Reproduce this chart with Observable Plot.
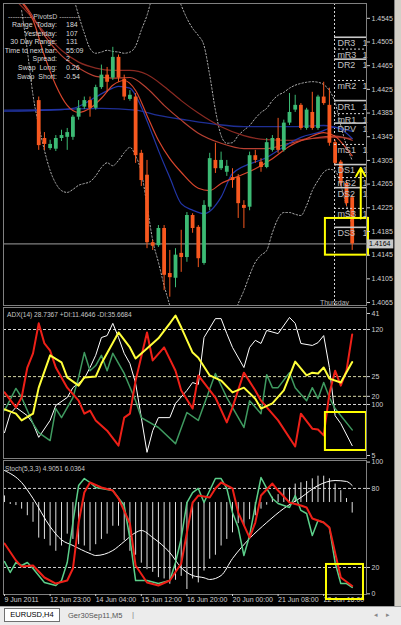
<!DOCTYPE html>
<html><head><meta charset="utf-8">
<script src="https://cdn.jsdelivr.net/npm/d3@7"></script>
<script src="https://cdn.jsdelivr.net/npm/@observablehq/plot@0.6"></script>
<style>
html,body{margin:0;padding:0;background:#000;}
#wrap{position:relative;width:401px;height:625px;overflow:hidden;background:#000;font-family:"Liberation Sans",Arial,sans-serif;}
.t{position:absolute;white-space:pre;line-height:1;font-size:7px;}
</style></head><body>
<div id="wrap"></div>
<script>
// ---------------- DATA ----------------
// Candles (bar index, price)
const candleBar = [6,7,8,9,10,11,12,13,14,15,16,17,18,19,20,21,22,23,24,25,26,27,28,29,30,31,32,33,34,35,36,37,38,39,40,41,42,43,44,45,46,47,48,49,50,51,52,53,54,55,56,57,58,59,60,61];
const candleOpen = [1.4406,1.4342,1.4325,1.4324,1.4342,1.4344,1.4344,1.4378,1.4395,1.4406,1.4393,1.4428,1.4449,1.4444,1.4479,1.4442,1.4408,1.4412,1.4317,1.4280,1.4166,1.4161,1.4190,1.4114,1.4106,1.4148,1.4141,1.4212,1.4192,1.4131,1.4226,1.4305,1.4291,1.4285,1.4276,1.4276,1.4229,1.4226,1.4313,1.4302,1.4293,1.4322,1.4342,1.4322,1.4368,1.4390,1.4398,1.4359,1.4386,1.4359,1.4412,1.4398,1.4335,1.4302,1.4266,1.4242];
const candleHigh = [1.4412,1.4352,1.4339,1.4347,1.4356,1.4359,1.4381,1.4406,1.4412,1.4412,1.4432,1.4466,1.4462,1.4496,1.4483,1.4449,1.4423,1.4418,1.4322,1.4305,1.4170,1.4195,1.4195,1.4153,1.4156,1.4187,1.4217,1.4215,1.4195,1.4237,1.4317,1.4334,1.4319,1.4305,1.4291,1.4281,1.4237,1.4319,1.4322,1.4308,1.4342,1.4347,1.4376,1.4373,1.4418,1.4415,1.4401,1.4393,1.4420,1.4415,1.4437,1.4427,1.4339,1.4305,1.4271,1.4246];
const candleLow = [1.4322,1.4322,1.4322,1.4320,1.4337,1.4322,1.4339,1.4373,1.4391,1.4378,1.4390,1.4425,1.4420,1.4440,1.4437,1.4406,1.4405,1.4300,1.4261,1.4156,1.4153,1.4158,1.4085,1.4074,1.4090,1.4116,1.4133,1.4182,1.4124,1.4128,1.4220,1.4283,1.4288,1.4278,1.4258,1.4207,1.4190,1.4220,1.4300,1.4285,1.4291,1.4319,1.4317,1.4319,1.4364,1.4386,1.4356,1.4356,1.4356,1.4356,1.4398,1.4329,1.4295,1.4261,1.4227,1.4153];
const candleClose = [1.4330,1.4332,1.4332,1.4342,1.4347,1.4352,1.4378,1.4393,1.4406,1.4393,1.4428,1.4449,1.4437,1.4479,1.4444,1.4412,1.4415,1.4313,1.4271,1.4166,1.4160,1.4190,1.4111,1.4107,1.4145,1.4141,1.4212,1.4190,1.4139,1.4229,1.4308,1.4291,1.4305,1.4295,1.4271,1.4232,1.4224,1.4313,1.4305,1.4293,1.4335,1.4342,1.4322,1.4368,1.4386,1.4398,1.4359,1.4390,1.4359,1.4412,1.4401,1.4334,1.4300,1.4266,1.4232,1.4164];

// Moving averages
const blueSlowBar = [0,10,17,23,27,32,37,42,50,56,58,61];
const blueSlowVal = [1.4390,1.4391,1.4393,1.4390,1.4381,1.4373,1.4366,1.4362,1.4362,1.4364,1.4361,1.4354];
const blueFastBar = [0,8,12,14,16,19,20,22,24,26,27,29,31,33,35,38,40,46,52,55,58,60,61];
const blueFastVal = [1.4388,1.4390,1.4393,1.4401,1.4412,1.4427,1.4430,1.4427,1.4395,1.4347,1.4322,1.4276,1.4232,1.4221,1.4215,1.4243,1.4283,1.4310,1.4344,1.4352,1.4361,1.4351,1.4342];
const redFastBar = [3,5,7,9,11,13,15,17,19,21,23,25,27,29,31,34,36,38,41,44,47,50,53,56,58,60,61];
const redFastVal = [1.4572,1.4542,1.4482,1.4432,1.4398,1.4386,1.4393,1.4410,1.4432,1.4440,1.4423,1.4381,1.4339,1.4308,1.4285,1.4258,1.4254,1.4266,1.4278,1.4291,1.4308,1.4329,1.4342,1.4352,1.4346,1.4325,1.4313];
const redMidBar = [2,4,7,10,13,16,19,22,25,28,31,34,38,42,46,50,54,58,61];
const redMidVal = [1.4584,1.4562,1.4516,1.4482,1.4461,1.4447,1.4444,1.4445,1.4427,1.4398,1.4373,1.4351,1.4334,1.4325,1.4325,1.4334,1.4342,1.4346,1.4339];
const brownBar = [2,4,7,10,13,16,19,22,25,28,31,34,38,42,46,50,54,58,61];
const brownVal = [1.4575,1.4555,1.4521,1.4491,1.4471,1.4461,1.4457,1.4457,1.4450,1.4430,1.4406,1.4385,1.4362,1.4347,1.4340,1.4339,1.4342,1.4344,1.4342];

// Bollinger bands
const bbUpperBar = [11,12,13,14,15,16,17,18,19,20,21,22,23,24,25,26,27,29,30,31,32,33,34,35,36,37,38,39,40,41,42,43,44,45,46,47,48,49,50,51,52,53,54,55,56,57,58,59,60,61];
const bbUpperVal = [1.4618,1.4584,1.4550,1.4520,1.4494,1.4486,1.4488,1.4491,1.4489,1.4488,1.4486,1.4488,1.4498,1.4525,1.4550,1.4584,1.4609,1.4618,1.4592,1.4567,1.4545,1.4528,1.4516,1.4499,1.4449,1.4390,1.4347,1.4334,1.4335,1.4347,1.4356,1.4364,1.4376,1.4386,1.4393,1.4406,1.4415,1.4420,1.4427,1.4432,1.4435,1.4437,1.4438,1.4437,1.4433,1.4423,1.4403,1.4364,1.4330,1.4305];
const bbLowerBar = [3,4,5,6,7,8,9,10,11,12,13,14,15,16,17,18,19,20,21,22,23,24,25,26,27,28,29,30,35,40,41,42,43,44,45,46,47,48,49,50,51,52,53,54,55,56,57,58,59,60,61];
const bbLowerVal = [1.4558,1.4491,1.4415,1.4364,1.4322,1.4288,1.4266,1.4254,1.4251,1.4256,1.4263,1.4266,1.4269,1.4279,1.4293,1.4301,1.4296,1.4305,1.4318,1.4327,1.4313,1.4285,1.4229,1.4170,1.4133,1.4094,1.4060,1.4026,1.4018,1.4035,1.4063,1.4085,1.4111,1.4133,1.4145,1.4153,1.4183,1.4207,1.4217,1.4217,1.4214,1.4212,1.4229,1.4254,1.4271,1.4285,1.4290,1.4288,1.4263,1.4229,1.4196];

// Daily pivots
const pivotNames = ["DR3","mR3","DR2","mR2","DR1","mR1","DPV","mS1","DS1","mS2","DS2","mS3","DS3"];
const pivotValues = [1.4513,1.4493,1.4476,1.4440,1.4406,1.4384,1.4368,1.4332,1.4298,1.4276,1.4259,1.4224,1.4192];
const pivotPriceStub = "1";   // visible start of the (cut-off) pivot price text
const daySeparatorBar = 57.9;
const dayName = "Thursday";

const priceTicks = [1.4545,1.4505,1.4465,1.4425,1.4385,1.4345,1.4305,1.4265,1.4225,1.4185,1.4145,1.4105,1.4065];
const lastPrice = 1.4164;

// ADX panel
const adxRedBar = [0,2,3,4,5,6,7,8,9,11,13,14,15,16,18,20,21,22,23,25,26,28,30,31,33,34,37,39,40,42,44,45,48,51,52,54,55,56,57,58,59,60,61];
const adxRedVal = [21.0,17.2,19.7,27.3,30.9,38.5,33.4,31.6,27.3,22.2,18.9,15.6,16.4,13.9,11.3,7.5,14.6,15.6,24.0,36.2,29.1,32.4,26.5,21.5,16.9,25.3,19.7,13.4,17.2,26.0,21.5,18.9,13.9,7.3,15.6,11.8,11.6,10.1,20.7,26.5,22.7,26.5,35.7];
const adxGreenBar = [0,2,3,4,5,6,8,9,10,12,13,14,15,16,17,18,19,21,23,24,27,30,32,34,37,39,42,43,45,46,47,48,50,51,53,54,55,56,57,58,61];
const adxGreenVal = [16.4,22.0,19.7,16.4,13.1,10.8,8.8,16.9,14.6,19.7,24.8,31.1,26.5,27.8,30.4,26.5,30.9,25.8,18.9,14.6,12.1,8.0,15.9,13.9,25.8,19.7,12.1,18.9,15.6,25.5,22.2,22.2,26.0,22.2,18.9,22.2,19.4,23.5,19.7,16.9,11.5];
const adxYellowBar = [0,2,3,5,6,8,10,11,13,14,16,17,20,22,23,25,27,29,30,31,33,34,36,38,40,42,44,45,47,49,51,53,54,55,56,57,59,61];
const adxYellowVal = [16.7,15.6,13.9,15.6,22.2,30.4,28.6,24.8,22.7,24.8,25.0,28.3,36.2,32.4,29.6,32.1,34.7,38.5,40.5,37.5,31.1,29.8,25.3,24.0,21.0,22.2,19.4,16.9,18.2,21.5,28.8,25.3,26.0,25.8,27.3,24.5,23.5,28.7];
const adxWhiteBar = [0,1,2,4,5,6,8,9,11,12,14,15,16,17,18,19,20,21,22,23,24,25,26,27,29,30,32,33,34,35,37,38,39,40,42,43,44,45,46,48,50,51,52,54,55,56,57,58,59,61];
const adxWhiteVal = [10.8,15.6,17.2,15.1,13.1,9.6,13.9,17.7,19.7,22.2,24.5,27.3,30.4,34.9,35.4,38.5,34.9,30.9,28.3,23.3,14.6,5.8,11.3,14.6,14.6,18.2,21.5,23.5,23.0,34.9,39.7,39.7,35.9,32.4,27.3,32.4,34.2,33.4,36.7,35.9,40.0,38.5,33.4,32.9,33.6,35.4,27.3,15.1,13.1,7.5];
const adxTickValues = [41, 36.94, 25, 20, 17.93, 5];
const adxTickLabels = ["41", "120", "25", "20", "100", "5"];
const adxWhiteLevels = [36.94, 17.93];
const adxYellowLevels = [25, 20];
const adxTitle = "ADX(14) 28.7367 +DI:11.4646 -DI:35.6684";

// Stochastic panel
const stochMainBar = [0,1,2,3,4,5,7,9,10,11,12,13,14,15,16,18,19,21,22,23,24,25,27,29,30,31,32,33,34,35,37,38,39,40,41,42,43,44,45,46,47,48,50,51,52,53,54,55,56,57,58,59,60,61];
const stochMainVal = [24.5,16.2,23.8,21.5,23.8,19.2,8.6,6.3,10.1,23.8,54.1,82.2,87.5,84.5,80.7,79.2,78.4,67.0,42.0,10.1,10.1,10.1,7.8,10.1,23.8,42.0,69.3,76.9,80.0,69.3,87.5,87.5,80.0,61.7,50.3,29.1,44.3,67.0,88.3,80.0,72.4,68.6,65.5,74.6,63.3,61.0,44.3,55.7,54.1,50.3,23.8,7.8,7.8,4.9];
const stochSigBar = [0,2,3,5,7,9,11,12,13,14,15,17,19,20,22,23,25,27,29,31,32,33,34,36,37,38,40,41,43,44,45,47,48,50,52,53,54,56,57,58,59,61];
const stochSigVal = [38.2,25.3,20.7,21.5,12.4,7.8,10.1,19.2,54.1,76.9,84.5,80.7,78.4,72.4,53.4,21.5,8.6,6.3,10.1,23.0,46.5,69.3,74.6,73.1,80.0,84.5,80.0,61.7,42.7,54.1,74.6,83.7,78.4,69.3,67.0,65.5,57.2,54.1,50.3,31.3,12.4,6.0];
const stochSmoothBar = [0,3,5,8,10,12,15,16,19,21,23,24,26,29,31,33,35,36,38,40,43,46,49,52,55,58,60,61];
const stochSmoothVal = [93.6,84.5,72.4,51,41,36.7,30.6,29.1,32.9,39.7,46.5,48.1,42.7,31.3,19.9,13.9,12.2,10.9,13.9,26.8,42.0,54.1,64.8,73.1,82.2,86.0,85.3,82.2];
const histBaseline = 69.3;
const histVal = [5,-1.5,-2.3,-5,-10,-15,-27,-28,-33,-37,-33,-24,-28,-32,-33,-37,-32,-28,-24,-18,-18,-29,-37,-40,-46,-51,-53,-57,-58,-62,-59,-56,-66,-58,-61,-52,-43,-40,-33,-28,-23,-16,-18,-13,-10,-5,-2,4,6,10,11,14,15,16,18,20,20,18,14,9,3,-8];
const stochTicks = [100, 80, 20, 0];
const stochLevels = [80, 20];
const stochTitle = "Stoch(5,3,3) 4.9051 6.0364";

const dateTickBars = [0,8,16,24,32,40,48,56];
const dateTickLabels = ["9 Jun 2011","12 Jun 23:00","14 Jun 04:00","15 Jun 12:00","16 Jun 20:00","20 Jun 00:00","21 Jun 08:00","22 Jun 16:00"];

// Annotations drawn on the screenshot (bar index / value units)
const mainBox = {x1: 56.3, x2: 63.86, y1: 1.4145, y2: 1.4207};
const mainArrow = {x1: 62.5, y1: 1.4207, x2: 62.5, y2: 1.4292};
const adxBox = {x1: 56.3, x2: 63.5, y1: 6.27, y2: 15.9};
const stochBox = {x1: 56.49, x2: 62.98, y1: -4.3, y2: 22.3};

// Info panel text
const infoTitle = "---------- PivotsD ---------";
const infoLabels = ["Range  Today:","Yesterday:","30 Day Range:","Time to next bar:","Spread:","Swap  Long:","Swap  Short:"];
const infoValues = ["184","107","131","55:09","2","0.26","-0.54"];

const tabs = ["EURUSD,H4","Ger30Sep11,M5"];

// ---------------- BUILD ----------------
const pairs = (bars, vals) => bars.map((b, i) => ({bar: b, v: vals[i]}));
const W = 396;
const XD = [-0.18, 63.51];
const FONT = '"Liberation Sans", Arial, sans-serif';
const baseStyle = {background: "#000", color: "#d0d0d0", fontSize: "7px", fontFamily: FONT};
const BULL = "#3cba74", BEAR = "#f7581f";

const candles = candleBar.map((b, i) => ({bar: b, o: candleOpen[i], h: candleHigh[i], l: candleLow[i], c: candleClose[i]}));
const pivots = pivotNames.map((n, i) => ({name: n, v: pivotValues[i], solid: n[0] === "D"}));

const mainPlot = Plot.plot({
  width: W, height: 306,
  marginLeft: 3, marginRight: 30, marginTop: 3, marginBottom: 1,
  x: {domain: XD, axis: null},
  y: {domain: [1.4060, 1.4570]},
  style: baseStyle,
  marks: [
    Plot.ruleY([lastPrice], {stroke: "#a0a0a0", strokeWidth: 1}),
    Plot.ruleX([daySeparatorBar], {stroke: "#d8d8d8", strokeDasharray: "2,2"}),
    Plot.line(pairs(bbUpperBar, bbUpperVal), {x: "bar", y: "v", stroke: "#b0b0b0", strokeDasharray: "1.5,2", strokeWidth: 1, curve: "monotone-x", clip: true}),
    Plot.line(pairs(bbLowerBar, bbLowerVal), {x: "bar", y: "v", stroke: "#b0b0b0", strokeDasharray: "1.5,2", strokeWidth: 1, curve: "monotone-x", clip: true}),
    Plot.line(pairs(blueSlowBar, blueSlowVal), {x: "bar", y: "v", stroke: "#1f2f95", strokeWidth: 1.3, curve: "monotone-x", clip: true}),
    Plot.line(pairs(brownBar, brownVal), {x: "bar", y: "v", stroke: "#8a2a22", strokeWidth: 1.2, curve: "monotone-x", clip: true}),
    Plot.line(pairs(redMidBar, redMidVal), {x: "bar", y: "v", stroke: "#b84032", strokeWidth: 1.2, curve: "monotone-x", clip: true}),
    Plot.line(pairs(blueFastBar, blueFastVal), {x: "bar", y: "v", stroke: "#2236a8", strokeWidth: 1.2, curve: "monotone-x", clip: true}),
    Plot.line(pairs(redFastBar, redFastVal), {x: "bar", y: "v", stroke: "#d8452c", strokeWidth: 1.2, curve: "monotone-x", clip: true}),
    Plot.ruleX(candles, {x: "bar", y1: "l", y2: "h", stroke: d => d.c >= d.o ? BULL : BEAR, strokeWidth: 1, clip: true}),
    Plot.ruleX(candles, {x: "bar", y1: "o", y2: "c", stroke: d => d.c >= d.o ? BULL : BEAR, strokeWidth: 3.8, clip: true}),
    Plot.ruleY(pivots.filter(d => d.solid), {y: "v", x1: daySeparatorBar, x2: XD[1], stroke: "#c8c8c8", strokeWidth: 1.6}),
    Plot.ruleY(pivots.filter(d => !d.solid), {y: "v", x1: daySeparatorBar, x2: XD[1], stroke: "#d8d8d8", strokeWidth: 1, strokeDasharray: "2,2"}),
    Plot.text(pivots, {x: 58.4, y: "v", text: "name", textAnchor: "start", dy: 6, fill: "#c0c0c0", fontSize: 9}),
    Plot.text(pivots, {x: 62.8, y: "v", text: () => pivotPriceStub, textAnchor: "start", dy: 6, fill: "#c0c0c0", fontSize: 9}),
    Plot.text([dayName], {x: daySeparatorBar, y: 1.40615, text: d => d, lineAnchor: "bottom", fill: "#b8b8b8", fontSize: 7}),
    Plot.rect([mainBox], {x1: "x1", x2: "x2", y1: "y1", y2: "y2", stroke: "#ffff00", strokeWidth: 2, fill: "none"}),
    Plot.arrow([mainArrow], {x1: "x1", y1: "y1", x2: "x2", y2: "y2", stroke: "#ffff00", strokeWidth: 2, headLength: 7}),
    Plot.frame({stroke: "#808080"}),
    Plot.axisY(priceTicks, {anchor: "right", tickSize: 3, tickPadding: 2, tickFormat: d => d.toFixed(4), fontSize: 7}),
    Plot.ruleY([lastPrice], {x1: 63.7, x2: 68.3, stroke: "#c8c8c8", strokeWidth: 9}),
    Plot.text([lastPrice], {x: 63.95, y: d => d, text: d => d.toFixed(4), textAnchor: "start", fill: "#000", fontSize: 7})
  ]
});

const adxPlot = Plot.plot({
  width: W, height: 153,
  marginLeft: 3, marginRight: 30, marginTop: 1, marginBottom: 1,
  x: {domain: XD, axis: null},
  y: {domain: [4.24, 42.52]},
  style: baseStyle,
  marks: [
    Plot.ruleY(adxWhiteLevels, {stroke: "#d8d8d8", strokeDasharray: "3,2"}),
    Plot.ruleY(adxYellowLevels, {stroke: "#d8d8a8", strokeDasharray: "3,2"}),
    Plot.line(pairs(adxWhiteBar, adxWhiteVal), {x: "bar", y: "v", stroke: "#ffffff", strokeWidth: 1, clip: true}),
    Plot.line(pairs(adxGreenBar, adxGreenVal), {x: "bar", y: "v", stroke: "#3f9a60", strokeWidth: 1.5, clip: true}),
    Plot.line(pairs(adxRedBar, adxRedVal), {x: "bar", y: "v", stroke: "#ee2018", strokeWidth: 2, clip: true}),
    Plot.line(pairs(adxYellowBar, adxYellowVal), {x: "bar", y: "v", stroke: "#ffff3a", strokeWidth: 2, clip: true}),
    Plot.rect([adxBox], {x1: "x1", x2: "x2", y1: "y1", y2: "y2", stroke: "#ffff00", strokeWidth: 2, fill: "none"}),
    Plot.frame({stroke: "#808080"}),
    Plot.axisY(adxTickValues, {anchor: "right", tickSize: 3, tickPadding: 2, tickFormat: d => adxTickLabels[adxTickValues.indexOf(d)], fontSize: 7})
  ]
});

const stochPlot = Plot.plot({
  width: W, height: 147,
  marginLeft: 3, marginRight: 30, marginTop: 1, marginBottom: 12,
  x: {domain: XD},
  y: {domain: [-0.5, 101.2]},
  style: baseStyle,
  marks: [
    Plot.ruleY(stochLevels, {stroke: "#d0d0d0", strokeDasharray: "3,2"}),
    Plot.ruleX(histVal.map((v, i) => ({bar: i, v})), {x: "bar", y1: histBaseline, y2: d => histBaseline + d.v, stroke: "#e0e0e0", strokeWidth: 1}),
    Plot.line(pairs(stochSmoothBar, stochSmoothVal), {x: "bar", y: "v", stroke: "#ffffff", strokeWidth: 1, curve: "monotone-x", clip: true}),
    Plot.line(pairs(stochMainBar, stochMainVal), {x: "bar", y: "v", stroke: "#5ccf8a", strokeWidth: 1.5, clip: true}),
    Plot.line(pairs(stochSigBar, stochSigVal), {x: "bar", y: "v", stroke: "#ee2018", strokeWidth: 2, clip: true}),
    Plot.frame({stroke: "#808080"}),
    Plot.axisY(stochTicks, {anchor: "right", tickSize: 3, tickPadding: 2, fontSize: 7}),
    Plot.axisX(dateTickBars, {anchor: "bottom", tickSize: 2, tickPadding: 1, textAnchor: "start", tickFormat: d => dateTickLabels[dateTickBars.indexOf(d)], fontSize: 7}),
    Plot.rect([stochBox], {x1: "x1", x2: "x2", y1: "y1", y2: "y2", stroke: "#ffff00", strokeWidth: 2, fill: "none"})
  ]
});

const wrap = document.getElementById("wrap");
function put(el, top, left) { el.style.position = "absolute"; el.style.top = top + "px"; el.style.left = left + "px"; wrap.appendChild(el); return el; }
function txt(s, top, left, css) { const d = document.createElement("div"); d.className = "t"; d.textContent = s; Object.assign(d.style, css || {}); return put(d, top, left); }

put(mainPlot, 0, 0);
put(adxPlot, 306, 0);
put(stochPlot, 459, 0);

// info box
txt(infoTitle, 13, 8, {color: "#c8c8c8"});
infoLabels.forEach((s, i) => {
  txt(s, 21 + i * 8.6, 0, {width: "57px", textAlign: "right", color: "#d8d8d8"});
  txt(infoValues[i], 21 + i * 8.6, infoValues[i][0] === "-" ? 64 : 66, {color: "#d8d8d8"});
});
txt(adxTitle, 312, 7, {color: "#c8c8c8", fontSize: "6.6px"});
txt(stochTitle, 466, 5, {color: "#c8c8c8", fontSize: "6.6px"});

// right window strip
const strip = document.createElement("div");
Object.assign(strip.style, {width: "7px", height: "606px", background: "#d4d0c8", borderLeft: "1px solid #808080", boxSizing: "border-box"});
put(strip, 0, 394);

// tab bar
const bar = document.createElement("div");
Object.assign(bar.style, {width: "401px", height: "19px", background: "#ececec", borderTop: "1px solid #a0a0a0", boxSizing: "border-box"});
put(bar, 606, 0);
const tab = document.createElement("div");
Object.assign(tab.style, {width: "56px", height: "14px", background: "#fff", border: "1px solid #707070", boxSizing: "border-box", fontSize: "7.5px", lineHeight: "12px", textAlign: "center", color: "#000", fontFamily: FONT});
tab.textContent = tabs[0];
put(tab, 608, 4);
txt(tabs[1], 612, 68, {color: "#555", fontSize: "7.5px"});
txt("|", 611, 132, {color: "#888", fontSize: "8px"});
txt("\u25C2", 611, 374, {color: "#888", fontSize: "7px"});
txt("\u25B8", 611, 386, {color: "#888", fontSize: "7px"});
</script>
</body></html>
